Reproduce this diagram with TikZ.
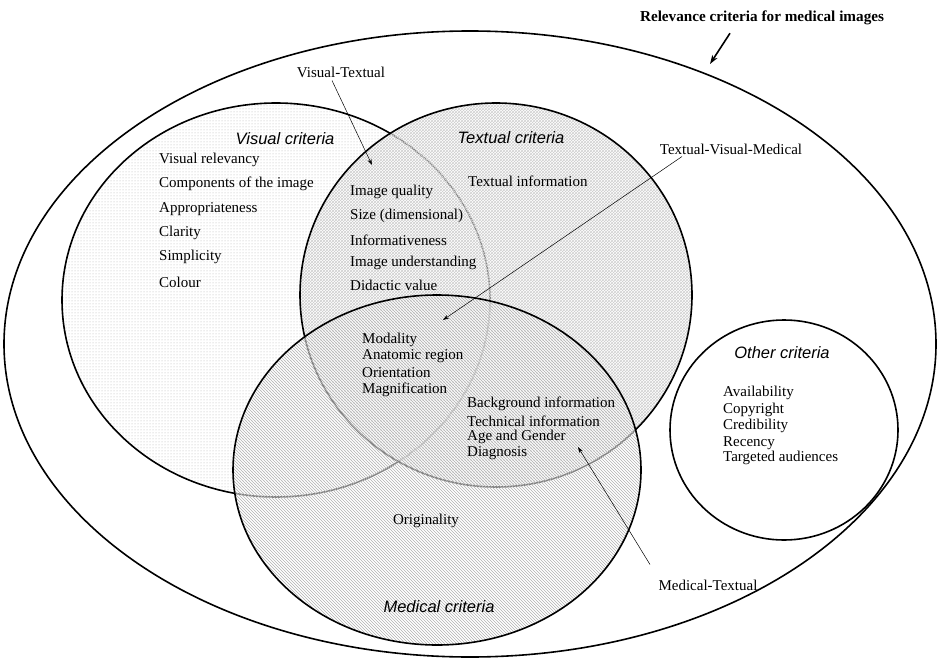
\documentclass[tikz,border=0pt]{standalone}
\usepackage{fontspec}
\setmainfont{Liberation Serif}
\newfontfamily\critfont{Liberation Sans}
\usetikzlibrary{patterns,arrows.meta}

\tikzset{
  crit/.style={font=\critfont\itshape\fontsize{16.5}{18}\selectfont, inner sep=0pt},
  item/.style={font=\fontsize{15}{17}\selectfont, inner sep=0pt},
  region/.style 2 args={fill=white, fill opacity=.5,
    postaction={fill opacity=1, pattern=#1, pattern color=#2},
    postaction={draw, line width=1.6pt}},
  pointer/.style={-{Stealth[length=6pt,width=4pt]}, line width=.5pt},
}

\begin{document}
\begin{tikzpicture}[x=1pt,y=-1pt]
\useasboundingbox (0,0) rectangle (937,661);
% outer region and the four sets
\draw[line width=1.6pt] (470,344) ellipse [x radius=466, y radius=313];
\path[region={dots}{gray!60}] (276,300) ellipse [x radius=214, y radius=197];
\path[region={crosshatch}{gray!38}] (496,295) ellipse [x radius=196, y radius=192];
\path[region={north west lines}{gray!60}] (437,470) ellipse [x radius=204, y radius=175];
\draw[line width=1.6pt] (784,430) ellipse [x radius=114, y radius=110];

% titles
\node[crit] (visT) at (285,139) {Visual criteria};
\node[crit] (texT) at (511,138) {Textual criteria};
\node[crit] (medT) at (439,607) {Medical criteria};
\node[crit] (othT) at (782,353) {Other criteria};

% visual
\node[item] (vis1) at (159,160) [right] {Visual relevancy};
\node[item] (vis2) at (159,184) [right] {Components of the image};
\node[item] (vis3) at (159,209) [right] {Appropriateness};
\node[item] (vis4) at (159,233) [right] {Clarity};
\node[item] (vis5) at (159,257) [right] {Simplicity};
\node[item] (vis6) at (159,282) [right] {Colour};

% visual-textual
\node[item] (vt1) at (350,192) [right] {Image quality};
\node[item] (vt2) at (350,216) [right] {Size (dimensional)};
\node[item] (vt3) at (350,240) [right] {Informativeness};
\node[item] (vt4) at (350,263) [right] {Image understanding};
\node[item] (vt5) at (350,285) [right] {Didactic value};

% textual
\node[item] (tex1) at (468,181) [right] {Textual information};

% textual-visual-medical
\node[item] (tvm1) at (362,340) [right] {Modality};
\node[item] (tvm2) at (362,356) [right] {Anatomic region};
\node[item] (tvm3) at (362,373) [right] {Orientation};
\node[item] (tvm4) at (362,390) [right] {Magnification};

% medical-textual
\node[item] (mt1) at (467,404) [right] {Background information};
\node[item] (mt2) at (467,421) [right] {Technical information};
\node[item] (mt3) at (467,437) [right] {Age and Gender};
\node[item] (mt4) at (467,453) [right] {Diagnosis};

% medical
\node[item] (med1) at (426,521) {Originality};

% other
\node[item] (oth1) at (723,393) [right] {Availability};
\node[item] (oth2) at (723,410) [right] {Copyright};
\node[item] (oth3) at (723,426) [right] {Credibility};
\node[item] (oth4) at (723,443) [right] {Recency};
\node[item] (oth5) at (723,458) [right] {Targeted audiences};

% pointers
\node[item, font=\bfseries\fontsize{15.2}{17}\selectfont] (rel) at (762,18) {Relevance criteria for medical images};
\node[item] (vt) at (341,72) {Visual-Textual};
\node[item] (tvm) at (731,149) {Textual-Visual-Medical};
\node[item] (mt) at (708,585) {Medical-Textual};
\coordinate (relTip) at (710,64);
\coordinate (vtTip) at (372,165);
\coordinate (tvmTip) at (443,320);
\coordinate (mtTip) at (578,447);
\draw[line width=1.6pt, -{Stealth[length=9pt,width=6pt]}] ([xshift=-32pt,yshift=-8pt]rel.south) -- (relTip);
\draw[pointer] ([xshift=-9pt,yshift=-3pt]vt.south) -- (vtTip);
\draw[pointer] ([xshift=-49pt,yshift=-2pt]tvm.south) -- (tvmTip);
\draw[pointer] ([xshift=-58pt,yshift=15pt]mt.north) -- (mtTip);
\end{tikzpicture}
\end{document}
